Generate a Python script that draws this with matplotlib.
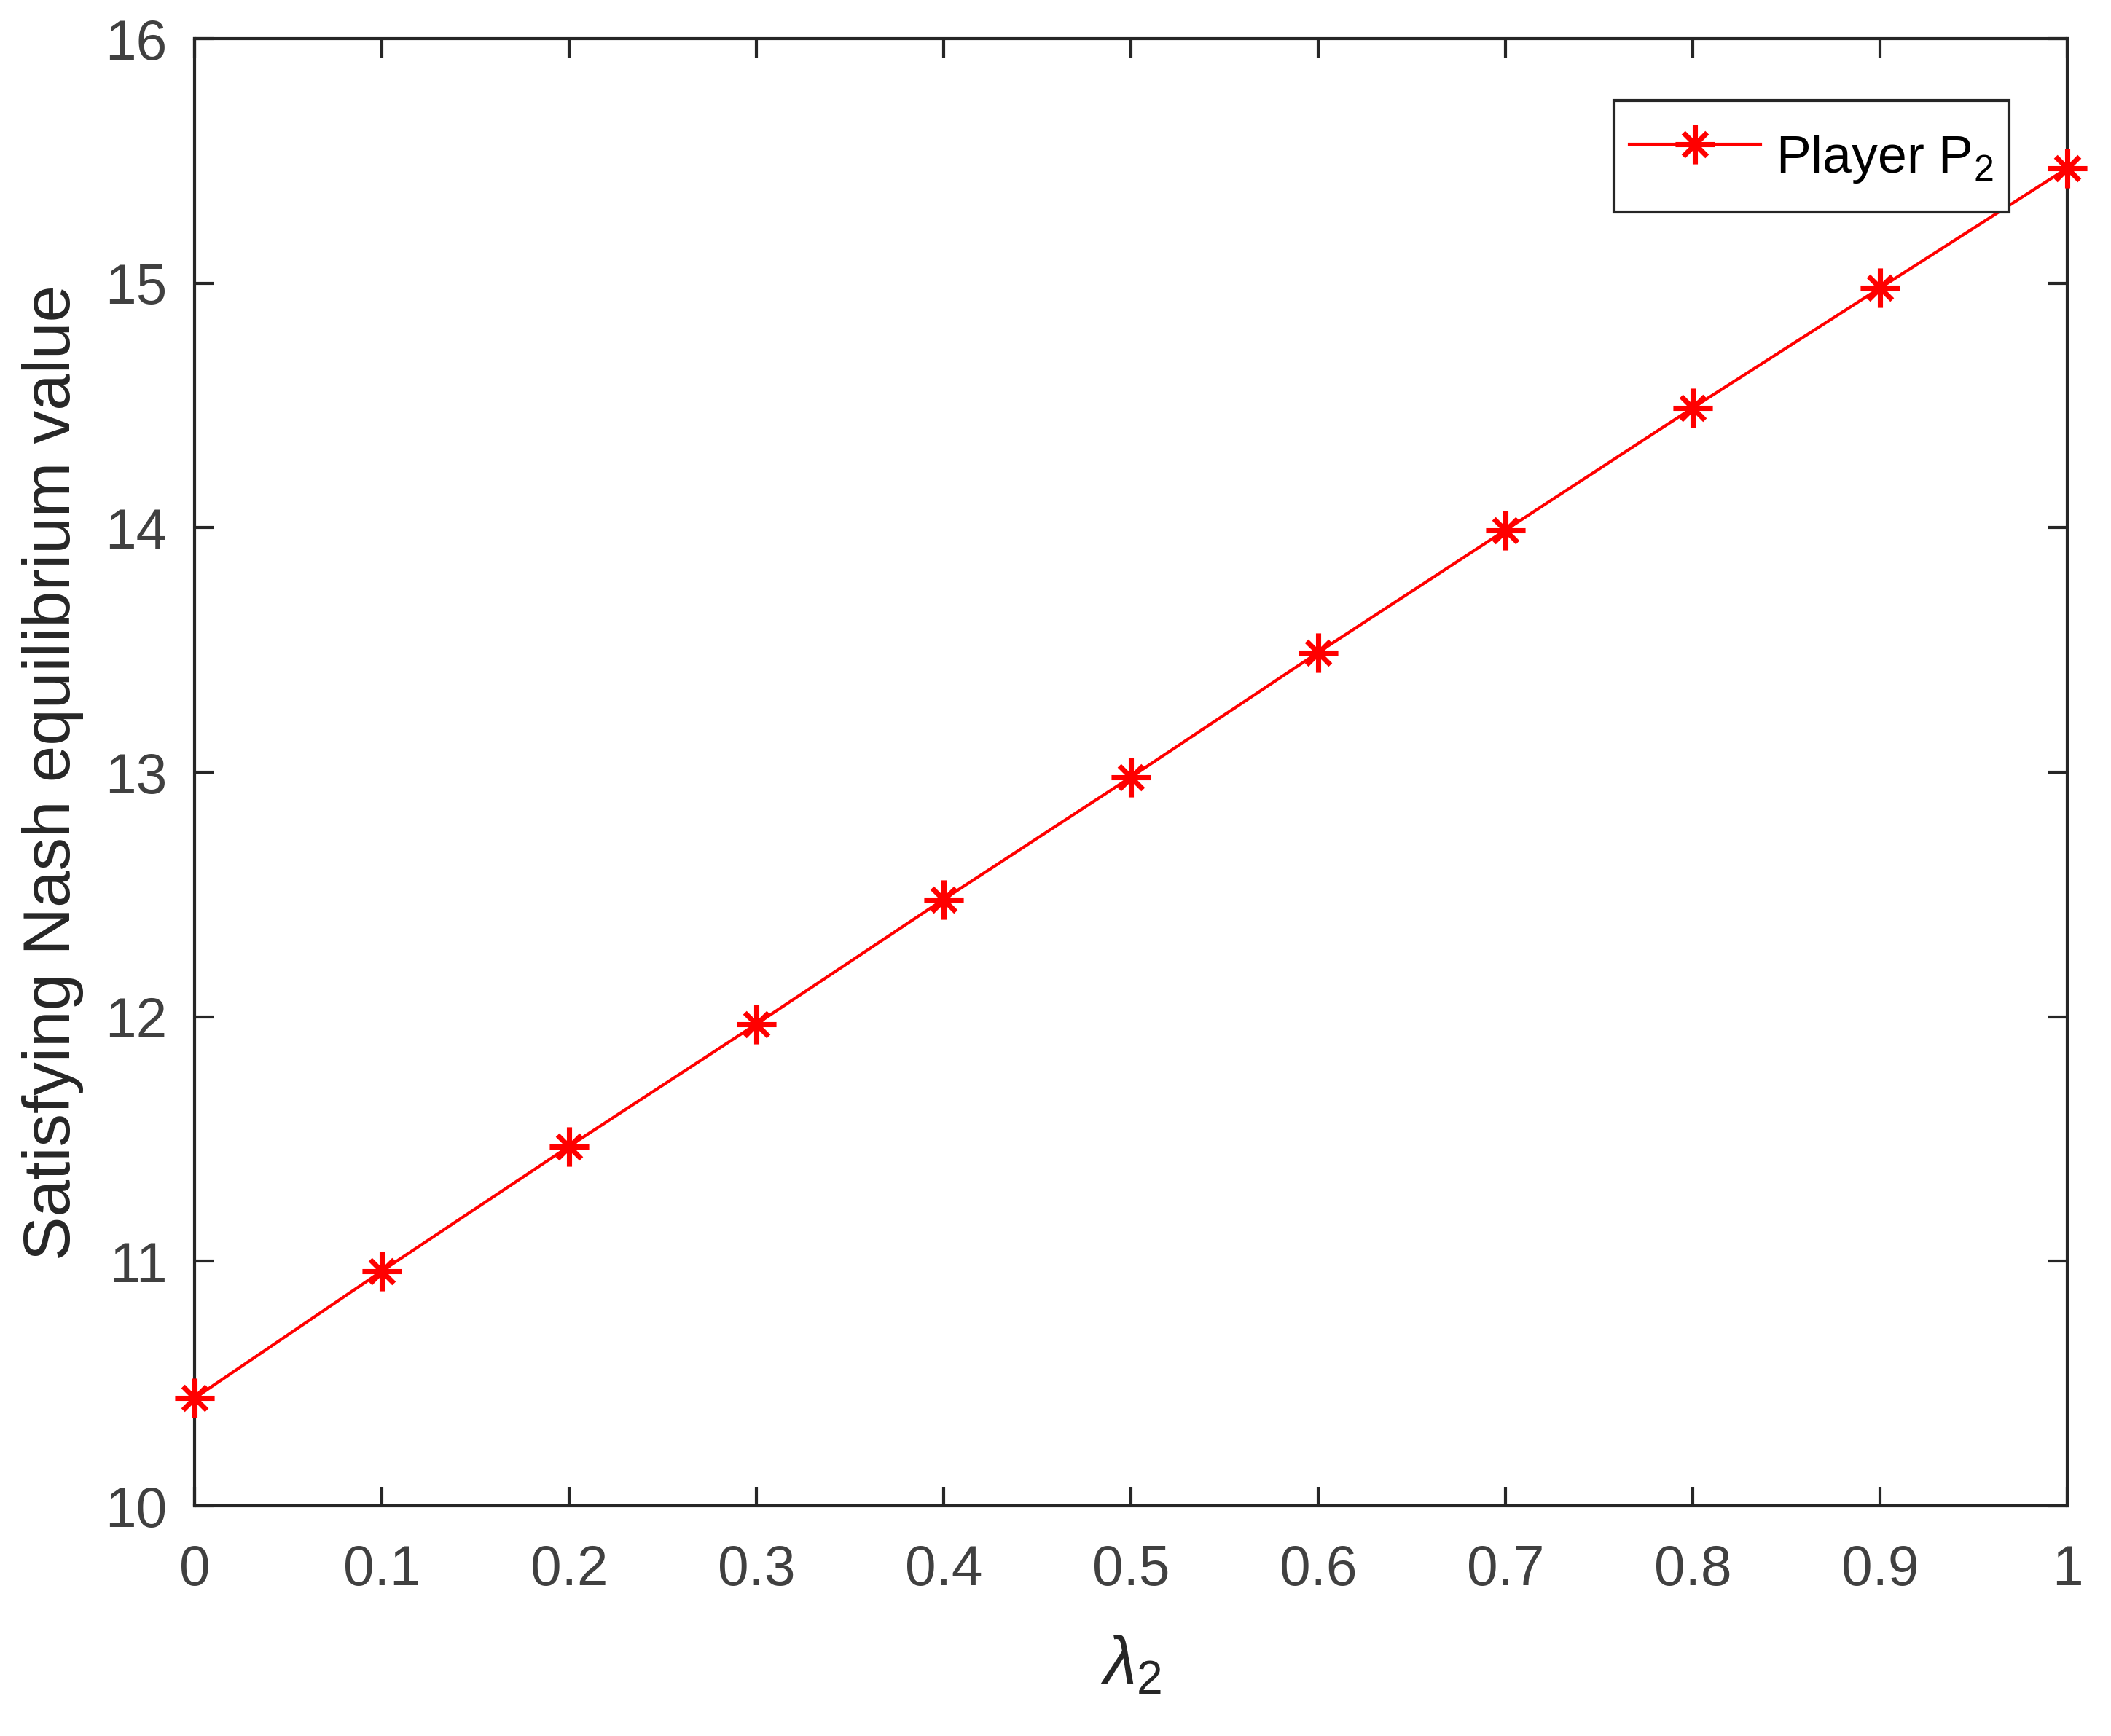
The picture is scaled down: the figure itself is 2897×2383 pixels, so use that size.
import matplotlib
matplotlib.use('Agg')
import matplotlib.pyplot as plt
from matplotlib.path import Path

lam = [0.0, 0.1, 0.2, 0.3, 0.4, 0.5, 0.6, 0.7, 0.8, 0.9, 1.0]
value_p2 = [10.44, 10.96, 11.47, 11.97, 12.48, 12.98, 13.49, 13.99, 14.49, 14.98, 15.47]
x_ticks = [0, 0.1, 0.2, 0.3, 0.4, 0.5, 0.6, 0.7, 0.8, 0.9, 1]
x_tick_labels = ['0', '0.1', '0.2', '0.3', '0.4', '0.5', '0.6', '0.7', '0.8', '0.9', '1']
y_ticks = [10, 11, 12, 13, 14, 15, 16]

plt.rcParams['font.family'] = ['Liberation Sans', 'DejaVu Sans']
plt.rcParams['mathtext.fontset'] = 'custom'
plt.rcParams['mathtext.rm'] = 'Liberation Sans'
plt.rcParams['mathtext.it'] = 'Liberation Sans:italic'

AX_COL = '#262626'
TICK_COL = '#404040'

# MATLAB-style asterisk: plus + narrower cross
d = 0.85 / 2 ** 0.5
star = Path(
    [(0, -1), (0, 1), (-1, 0), (1, 0), (-d, -d), (d, d), (-d, d), (d, -d)],
    [Path.MOVETO, Path.LINETO] * 4,
)

fig = plt.figure(figsize=(2897 / 300, 2383 / 300), dpi=300)
ax = fig.add_axes([267 / 2897, 1 - 2067 / 2383, 2570 / 2897, 2014 / 2383])

ax.plot(lam, value_p2, color='red', linewidth=1.0, marker=star, markersize=13,
        markeredgewidth=1.7, label='Player P$_2$', clip_on=False, zorder=3)

ax.set_xlim(0, 1)
ax.set_ylim(10, 16)
ax.set_xticks(x_ticks)
ax.set_xticklabels(x_tick_labels)
ax.set_yticks(y_ticks)
ax.tick_params(direction='in', length=6.2, width=1.0, colors=AX_COL,
               labelcolor=TICK_COL, labelsize=18.4, top=True, right=True)
ax.tick_params(axis='x', pad=12.5)
ax.tick_params(axis='y', pad=9)
for s in ax.spines.values():
    s.set_linewidth(1.0)
    s.set_color(AX_COL)

ax.set_xlabel(r'$\mathit{\lambda}_2$', fontsize=22, color=AX_COL, labelpad=12.5)
ax.set_ylabel('Satisfying Nash equilibrium value', fontsize=21.8, color=AX_COL, labelpad=7)

leg = ax.legend(loc='upper right', bbox_to_anchor=(0.969, 0.958), borderaxespad=0,
                fontsize=17.2, handlelength=2.5, handletextpad=0.3, borderpad=0.3,
                handleheight=2.0, fancybox=False, framealpha=1, edgecolor=AX_COL)
leg.get_frame().set_linewidth(1.0)

fig.savefig('out.png', dpi=300)
